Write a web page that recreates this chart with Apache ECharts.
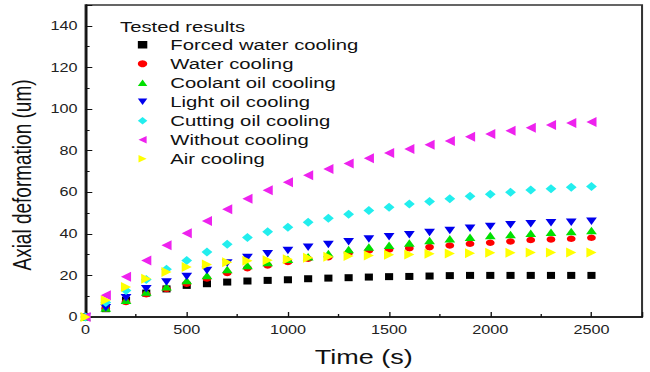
<!DOCTYPE html>
<html>
<head>
<meta charset="utf-8">
<script src="https://cdn.jsdelivr.net/npm/echarts@6/dist/echarts.min.js"></script>
<style>
  html, body { margin: 0; padding: 0; background: #fff; overflow: hidden; }
  /* the figure is laid out on a narrower canvas and widened horizontally */
  #chart { width: 481px; height: 372px; transform: scaleX(1.3514); transform-origin: 0 0; }
</style>
</head>
<body>
<div id="chart"></div>
<script>
// Time stamps (s)
const times = [0, 100, 200, 300, 400, 500, 600, 700, 800, 900, 1000, 1100, 1200,
               1300, 1400, 1500, 1600, 1700, 1800, 1900, 2000, 2100, 2200, 2300, 2400, 2500];

// Axial deformation (um) for each cooling condition
const forcedWater = [0, 4, 8, 11.5, 13.5, 15.2, 16, 16.8, 17.3, 17.6, 17.9, 18.4, 18.7,
                     18.9, 19.2, 19.4, 19.5, 19.7, 19.9, 20, 20, 20, 20, 20, 20, 20];
const water = [0, 4, 7.2, 11, 13.5, 16, 18.5, 21.2, 23.5, 24.8, 26.5, 28, 28.8,
               30.8, 32, 32.5, 33.1, 33.6, 34.4, 35.2, 35.7, 36.3, 37, 37.3, 37.6, 38.1];
const coolantOil = [0, 4.3, 8, 12, 14.5, 17.5, 20, 22.8, 24.8, 26.2, 27.8, 29, 30.5,
                    32.4, 33.6, 34.5, 35.6, 36.8, 37.6, 38.4, 39.2, 39.7, 40.3, 40.8, 41.1, 41.6];
const lightOil = [0, 4.5, 9.2, 13.6, 16.8, 19.5, 22.4, 26, 28.6, 30.4, 32, 33.5, 34.8,
                  36.2, 37.5, 38.6, 39.6, 40.6, 41.6, 42.7, 43.5, 44.3, 44.8, 45.3, 45.6, 46];
const cuttingOil = [0, 7, 12.8, 18, 23, 27.2, 31.2, 35, 38.2, 41, 43.2, 45.6, 47.5,
                    49.4, 51.2, 52.8, 54.3, 55.5, 56.8, 58.1, 59, 60, 61, 61.6, 62.4, 62.7];
const withoutCooling = [0, 10.5, 19.3, 27.2, 34.5, 40.3, 46.2, 51.8, 56.8, 60.9, 64.8, 68.2, 71.2,
                        73.8, 76.3, 78.9, 80.8, 82.8, 84.6, 86.6, 88, 89.5, 91, 92.3, 93.3, 93.7];
const airCooling = [0, 8, 14.4, 18.4, 21.6, 24, 25.2, 26.3, 27, 27.3, 27.8, 28.5, 29,
                    29.3, 29.6, 29.9, 30.1, 30.4, 30.5, 30.7, 30.9, 30.9, 31, 31, 31, 31];

const seriesNames = ['Forced water cooling', 'Water cooling', 'Coolant oil cooling',
                     'Light oil cooling', 'Cutting oil cooling', 'Without cooling', 'Air cooling'];
const seriesValues = [forcedWater, water, coolantOil, lightOil, cuttingOil, withoutCooling, airCooling];

const xTitle = 'Time (s)';
const yTitle = 'Axial deformation (um)';
const legendTitle = 'Tested results';

// marker look per series: colour, symbol, size, rotation, and the legend glyph
const markers = [
  { color: '#000000', symbol: 'rect', size: [6, 7], rotate: 0, icon: 'rect' },
  { color: '#ff0000', symbol: 'circle', size: 6.5, rotate: 0, icon: 'circle' },
  { color: '#00e000', symbol: 'triangle', size: [8, 7.5], rotate: 0, icon: 'path://M5,0 L10,9 L0,9 Z' },
  { color: '#0000ee', symbol: 'triangle', size: [8, 7.5], rotate: 180, icon: 'path://M0,0 L10,0 L5,9 Z' },
  { color: '#22eeee', symbol: 'diamond', size: [8, 9], rotate: 0, icon: 'diamond' },
  { color: '#ee22ee', symbol: 'triangle', size: [10, 7.5], rotate: 90, icon: 'path://M0,5 L8,0 L8,10 Z' },
  { color: '#ffff00', symbol: 'triangle', size: [10, 7.5], rotate: -90, icon: 'path://M0,0 L8,5 L0,10 Z' }
];

const series = seriesNames.map((name, i) => ({
  name,
  type: 'scatter',
  data: times.map((t, k) => [t, seriesValues[i][k]]),
  symbol: markers[i].symbol,
  symbolSize: markers[i].size,
  symbolRotate: markers[i].rotate,
  itemStyle: { color: markers[i].color, opacity: 1 },
  emphasis: { disabled: true },
  z: 2 + i
}));

const chart = echarts.init(document.getElementById('chart'), null, { renderer: 'svg' });
const font = 'Liberation Sans, Arial, sans-serif';
const plain = v => String(v);

chart.setOption({
  animation: false,
  backgroundColor: '#ffffff',
  grid: {
    left: 63.3, right: 5.9, top: 5, bottom: 53.5,
    show: true, borderColor: '#333', borderWidth: 1.5, backgroundColor: 'transparent'
  },
  xAxis: {
    type: 'value',
    min: 0, max: 2750, interval: 500,
    name: xTitle, nameLocation: 'middle', nameGap: 30,
    nameTextStyle: { fontFamily: font, fontSize: 20, color: '#111' },
    axisLine: { show: true, lineStyle: { color: '#111', width: 1.5 } },
    axisTick: { show: true, inside: true, length: 5, lineStyle: { color: '#111', width: 1 } },
    minorTick: { show: true, splitNumber: 2, length: 3, lineStyle: { color: '#111', width: 1 } },
    axisLabel: { fontFamily: font, fontSize: 12, color: '#222', margin: 7, showMaxLabel: false, formatter: plain },
    splitLine: { show: false }
  },
  yAxis: {
    type: 'value',
    min: 0, max: 150, interval: 20,
    axisLine: { show: true, lineStyle: { color: '#111', width: 1.5 } },
    axisTick: { show: true, inside: true, length: 5, lineStyle: { color: '#111', width: 1 } },
    minorTick: { show: true, splitNumber: 2, length: 3, lineStyle: { color: '#111', width: 1 } },
    axisLabel: { fontFamily: font, fontSize: 12, color: '#222', margin: 6, showMaxLabel: false, formatter: plain },
    splitLine: { show: false }
  },
  legend: {
    orient: 'vertical',
    left: 97, top: 32,
    itemWidth: 7, itemHeight: 7.5, itemGap: 3.5,
    selectedMode: false,
    textStyle: { fontFamily: font, fontSize: 15, color: '#111', lineHeight: 15.5, padding: [0, 0, 0, 12] },
    data: seriesNames.map((name, i) => ({ name, icon: markers[i].icon, itemStyle: { color: markers[i].color } }))
  },
  graphic: [
    {
      type: 'text', left: 88.8, top: 19,
      style: { text: legendTitle, font: '15px ' + font, fill: '#111' }
    },
    {
      type: 'text', x: 16.3, y: 175, rotation: Math.PI / 2,
      style: { text: yTitle, font: '19px ' + font, fill: '#111', align: 'center', verticalAlign: 'middle' }
    }
  ],
  series
});
</script>
</body>
</html>
